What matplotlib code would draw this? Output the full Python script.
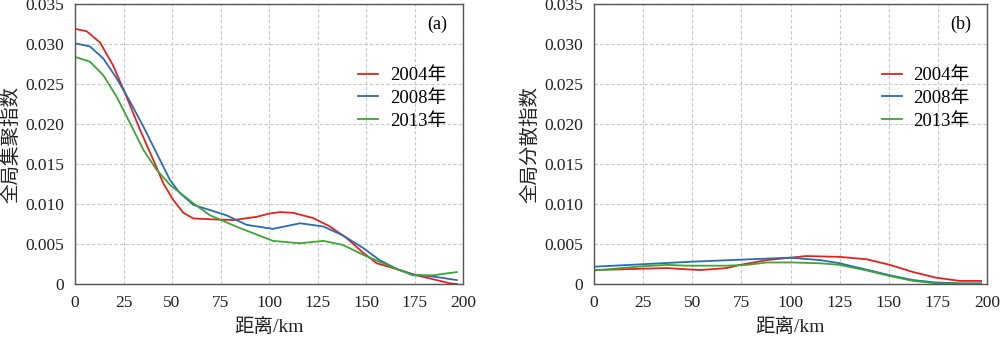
import matplotlib
matplotlib.use('Agg')
import matplotlib.pyplot as plt
from matplotlib.ticker import FuncFormatter

plt.rcParams['font.family'] = ['Liberation Serif', 'Noto Sans CJK SC']
plt.rcParams['axes.unicode_minus'] = False

# (a) global agglomeration index
x_a_2004 = [0, 6, 12.9, 19.7, 26.6, 33.5, 40.4, 45.5, 50.7, 55.9, 61, 70, 81.6, 93.6,
            100, 105.7, 112.5, 122.8, 131.4, 140, 148.6, 155.5, 164, 176, 186.4, 193, 197]
y_a_2004 = [0.0319, 0.0316, 0.0302, 0.0273, 0.0234, 0.0193, 0.0155, 0.0126, 0.0105, 0.0089,
            0.0082, 0.0081, 0.0080, 0.0084, 0.0088, 0.0090, 0.0089, 0.00825, 0.0072, 0.00575,
            0.0039, 0.0026, 0.0020, 0.0011, 0.0005, 0.0001, 0.0]

x_a_2008 = [0, 7.7, 14.6, 21.5, 28.4, 35.2, 42, 49, 54, 61, 69.6, 78, 88.5, 102, 116,
            128, 138, 148.6, 157, 165.8, 174, 186, 196.8]
y_a_2008 = [0.0301, 0.0297, 0.0282, 0.0257, 0.0228, 0.0197, 0.0164, 0.0130, 0.0114, 0.0099,
            0.00925, 0.0086, 0.0074, 0.0069, 0.0076, 0.0072, 0.0061, 0.0045, 0.0030, 0.0019,
            0.0012, 0.0009, 0.0005]

x_a_2013 = [0, 7.7, 14.6, 21.5, 28.4, 35.2, 42, 49, 61, 69.6, 83, 102, 116, 128, 138,
            150, 165.8, 174, 184.5, 196.8]
y_a_2013 = [0.0284, 0.0278, 0.0261, 0.0234, 0.0201, 0.0168, 0.0143, 0.0124, 0.0101, 0.0086,
            0.0072, 0.0054, 0.0051, 0.0054, 0.0049, 0.0035, 0.0019, 0.0011, 0.0011, 0.0015]

# (b) global dispersion index
x_b_2004 = [0, 37, 43.8, 54, 67.5, 74.3, 88, 100, 108, 125, 138.8, 150.6, 162.4, 174, 186, 197]
y_b_2004 = [0.00175, 0.0020, 0.0019, 0.00175, 0.0020, 0.0024, 0.0030, 0.0033, 0.0035, 0.0034,
            0.0031, 0.0024, 0.0015, 0.0008, 0.0004, 0.0004]

x_b_2008 = [0, 50, 99.7, 104.8, 115, 125, 138.8, 150.6, 162.4, 174, 186, 197]
y_b_2008 = [0.00217, 0.0028, 0.0033, 0.0032, 0.0030, 0.0026, 0.0018, 0.0011, 0.0005, 0.0002,
            0.0001, 0.0001]

x_b_2013 = [0, 23.4, 37, 47, 57, 67.5, 77.7, 88, 101, 115, 125, 138.8, 150.6, 162.4, 174, 186, 197]
y_b_2013 = [0.0017, 0.0022, 0.0024, 0.0023, 0.0023, 0.0023, 0.0024, 0.0027, 0.0027, 0.0026,
            0.0024, 0.0017, 0.0010, 0.0004, 0.0001, 0.0, 0.0]

labels = ['2004年', '2008年', '2013年']
colors = ['#e3231b', '#2a6cb3', '#3ea436']
x_ticks = [0, 25, 50, 75, 100, 125, 150, 175, 200]
y_ticks = [0, 0.005, 0.010, 0.015, 0.020, 0.025, 0.030, 0.035]

fig = plt.figure(figsize=(10, 3.39), dpi=100)
ax1 = fig.add_axes([0.075, 0.162, 0.388, 0.826])
ax2 = fig.add_axes([0.594, 0.162, 0.393, 0.826])

panels = [
    (ax1, [(x_a_2004, y_a_2004), (x_a_2008, y_a_2008), (x_a_2013, y_a_2013)], '全局集聚指数', '(a)'),
    (ax2, [(x_b_2004, y_b_2004), (x_b_2008, y_b_2008), (x_b_2013, y_b_2013)], '全局分散指数', '(b)'),
]

fmt = FuncFormatter(lambda v, p: '0' if abs(v) < 1e-9 else f'{v:.3f}')

for ax, series, ylab, tag in panels:
    for (xs, ys), lab, c in zip(series, labels, colors):
        ax.plot(xs, ys, color=c, linewidth=1.3, label=lab)
    ax.set_xlim(0, 200)
    ax.set_ylim(0, 0.035)
    ax.set_xticks(x_ticks)
    ax.set_yticks(y_ticks)
    ax.yaxis.set_major_formatter(fmt)
    ax.tick_params(length=0, labelsize=12.5, pad=8, colors='#222222')
    ax.grid(True, linestyle=(0, (3, 2)), color='#c8c8c8', linewidth=0.8)
    ax.set_axisbelow(True)
    for s in ax.spines.values():
        s.set_color('#555555')
        s.set_linewidth(1.0)
    ax.set_xlabel('距离/km', fontsize=14, color='#222222', labelpad=5)
    ax.set_ylabel(ylab, fontsize=14, color='#222222', labelpad=3)
    ax.text(0.933, 0.929, tag, transform=ax.transAxes, fontsize=13, ha='center', va='center')
    ax.legend(loc='upper right', bbox_to_anchor=(0.985, 0.815), frameon=False, fontsize=13.5,
              handlelength=1.1, handletextpad=0.6, labelspacing=0.3, borderaxespad=0.2)

fig.savefig('out.png', dpi=100)
